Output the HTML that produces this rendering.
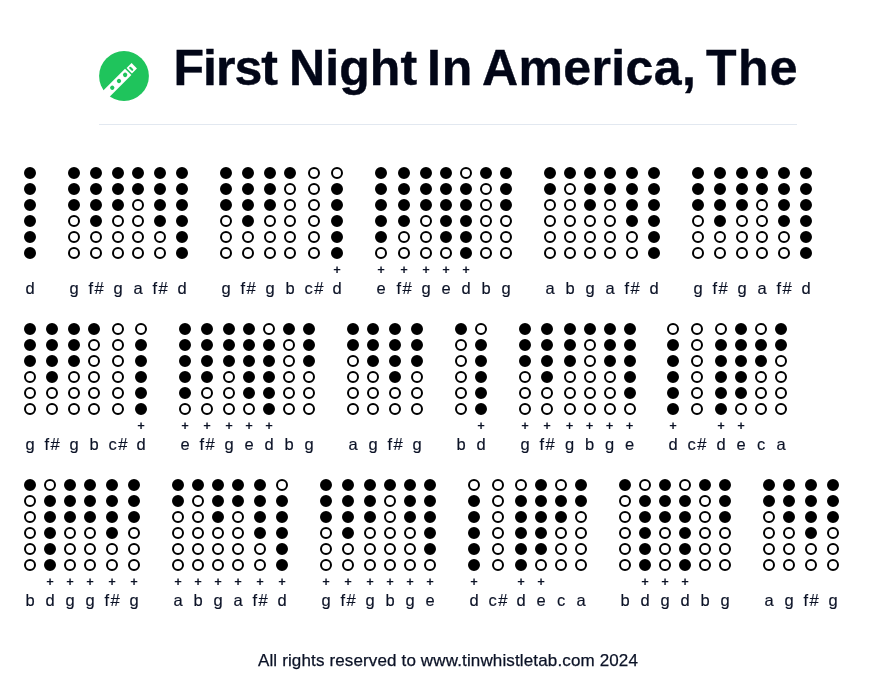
<!DOCTYPE html>
<html lang="en">
<head>
<meta charset="utf-8">
<title>First Night In America, The</title>
<style>
html,body{margin:0;padding:0;background:#fff;}
body{will-change:transform;width:896px;height:693px;position:relative;overflow:hidden;font-family:"Liberation Sans",sans-serif;color:#0b1226;}
.head{position:absolute;left:99px;top:0;width:698px;height:125px;border-bottom:1px solid #e2e8f0;box-sizing:border-box;}
.logo{position:absolute;left:0;top:51px;width:50px;height:50px;}
h1{-webkit-text-stroke:0.4px #020617;position:absolute;left:0;top:39.5px;width:700px;height:56px;margin:0;font-size:50px;line-height:56px;font-weight:700;color:#020617;white-space:nowrap;}
h1 span{position:absolute;top:0;}
.row{position:absolute;left:0;width:896px;height:140px;}
.n{position:absolute;top:0;width:40px;height:140px;}
.h{display:block;box-sizing:border-box;width:12px;height:12px;border:2px solid #000;border-radius:50%;background:#000;margin:0 auto 4px;}
.h.o{background:#fff;}
.p{position:absolute;left:0;width:40px;top:94.5px;text-align:center;font-size:13px;line-height:16px;font-weight:700;color:#0b1226;}
.l{-webkit-text-stroke:0.15px #0b1226;position:absolute;left:0;width:40px;top:111px;text-align:center;font-size:16.5px;line-height:20px;color:#0b1226;}
.l.s{letter-spacing:1.4px;text-indent:1.4px;}
.foot{-webkit-text-stroke:0.25px #0b1226;position:absolute;left:0;width:896px;top:651px;text-align:center;font-size:17px;line-height:20px;letter-spacing:0.14px;color:#0b1226;}
</style>
</head>
<body>
<div class="head">
<svg class="logo" viewBox="0 0 50 50">
<circle cx="25" cy="25" r="24.9" fill="#1fc45c"/>
<g transform="rotate(-45 25 25)">
<rect x="-12" y="20.5" width="42.9" height="9" fill="#fff"/>
<rect x="32.4" y="21.2" width="7.1" height="7.6" fill="#fff"/>
<rect x="34.2" y="22.55" width="2.1" height="4.9" rx="1" fill="#1fc45c"/>
<circle cx="26.6" cy="25" r="2.15" fill="#1fc45c"/>
<circle cx="17.9" cy="25" r="2.15" fill="#1fc45c"/>
<circle cx="8.4" cy="25" r="2.15" fill="#1fc45c"/>
</g>
</svg>
<h1><span style="left:74.4px;letter-spacing:-0.96px">First </span><span style="left:189.9px;letter-spacing:0.13px">Night </span><span style="left:328.1px;letter-spacing:0.78px">In </span><span style="left:383.1px;letter-spacing:0.35px">America, </span><span style="left:607.1px;letter-spacing:1.27px">The</span></h1>
</div>
<div class="row" style="top:167px">
<div class="n" style="left:10px"><i class="h"></i><i class="h"></i><i class="h"></i><i class="h"></i><i class="h"></i><i class="h"></i><span class="l">d</span></div>
<div class="n" style="left:54px"><i class="h"></i><i class="h"></i><i class="h"></i><i class="h o"></i><i class="h o"></i><i class="h o"></i><span class="l">g</span></div>
<div class="n" style="left:76px"><i class="h"></i><i class="h"></i><i class="h"></i><i class="h"></i><i class="h o"></i><i class="h o"></i><span class="l s">f#</span></div>
<div class="n" style="left:98px"><i class="h"></i><i class="h"></i><i class="h"></i><i class="h o"></i><i class="h o"></i><i class="h o"></i><span class="l">g</span></div>
<div class="n" style="left:118px"><i class="h"></i><i class="h"></i><i class="h o"></i><i class="h o"></i><i class="h o"></i><i class="h o"></i><span class="l">a</span></div>
<div class="n" style="left:140px"><i class="h"></i><i class="h"></i><i class="h"></i><i class="h"></i><i class="h o"></i><i class="h o"></i><span class="l s">f#</span></div>
<div class="n" style="left:162px"><i class="h"></i><i class="h"></i><i class="h"></i><i class="h"></i><i class="h"></i><i class="h"></i><span class="l">d</span></div>
<div class="n" style="left:206px"><i class="h"></i><i class="h"></i><i class="h"></i><i class="h o"></i><i class="h o"></i><i class="h o"></i><span class="l">g</span></div>
<div class="n" style="left:228px"><i class="h"></i><i class="h"></i><i class="h"></i><i class="h"></i><i class="h o"></i><i class="h o"></i><span class="l s">f#</span></div>
<div class="n" style="left:250px"><i class="h"></i><i class="h"></i><i class="h"></i><i class="h o"></i><i class="h o"></i><i class="h o"></i><span class="l">g</span></div>
<div class="n" style="left:270px"><i class="h"></i><i class="h o"></i><i class="h o"></i><i class="h o"></i><i class="h o"></i><i class="h o"></i><span class="l">b</span></div>
<div class="n" style="left:294px"><i class="h o"></i><i class="h o"></i><i class="h o"></i><i class="h o"></i><i class="h o"></i><i class="h o"></i><span class="l s">c#</span></div>
<div class="n" style="left:317px"><i class="h o"></i><i class="h"></i><i class="h"></i><i class="h"></i><i class="h"></i><i class="h"></i><b class="p">+</b><span class="l">d</span></div>
<div class="n" style="left:361px"><i class="h"></i><i class="h"></i><i class="h"></i><i class="h"></i><i class="h"></i><i class="h o"></i><b class="p">+</b><span class="l">e</span></div>
<div class="n" style="left:384px"><i class="h"></i><i class="h"></i><i class="h"></i><i class="h"></i><i class="h o"></i><i class="h o"></i><b class="p">+</b><span class="l s">f#</span></div>
<div class="n" style="left:406px"><i class="h"></i><i class="h"></i><i class="h"></i><i class="h o"></i><i class="h o"></i><i class="h o"></i><b class="p">+</b><span class="l">g</span></div>
<div class="n" style="left:426px"><i class="h"></i><i class="h"></i><i class="h"></i><i class="h"></i><i class="h"></i><i class="h o"></i><b class="p">+</b><span class="l">e</span></div>
<div class="n" style="left:446px"><i class="h o"></i><i class="h"></i><i class="h"></i><i class="h"></i><i class="h"></i><i class="h"></i><b class="p">+</b><span class="l">d</span></div>
<div class="n" style="left:466px"><i class="h"></i><i class="h o"></i><i class="h o"></i><i class="h o"></i><i class="h o"></i><i class="h o"></i><span class="l">b</span></div>
<div class="n" style="left:486px"><i class="h"></i><i class="h"></i><i class="h"></i><i class="h o"></i><i class="h o"></i><i class="h o"></i><span class="l">g</span></div>
<div class="n" style="left:530px"><i class="h"></i><i class="h"></i><i class="h o"></i><i class="h o"></i><i class="h o"></i><i class="h o"></i><span class="l">a</span></div>
<div class="n" style="left:550px"><i class="h"></i><i class="h o"></i><i class="h o"></i><i class="h o"></i><i class="h o"></i><i class="h o"></i><span class="l">b</span></div>
<div class="n" style="left:570px"><i class="h"></i><i class="h"></i><i class="h"></i><i class="h o"></i><i class="h o"></i><i class="h o"></i><span class="l">g</span></div>
<div class="n" style="left:590px"><i class="h"></i><i class="h"></i><i class="h o"></i><i class="h o"></i><i class="h o"></i><i class="h o"></i><span class="l">a</span></div>
<div class="n" style="left:612px"><i class="h"></i><i class="h"></i><i class="h"></i><i class="h"></i><i class="h o"></i><i class="h o"></i><span class="l s">f#</span></div>
<div class="n" style="left:634px"><i class="h"></i><i class="h"></i><i class="h"></i><i class="h"></i><i class="h"></i><i class="h"></i><span class="l">d</span></div>
<div class="n" style="left:678px"><i class="h"></i><i class="h"></i><i class="h"></i><i class="h o"></i><i class="h o"></i><i class="h o"></i><span class="l">g</span></div>
<div class="n" style="left:700px"><i class="h"></i><i class="h"></i><i class="h"></i><i class="h"></i><i class="h o"></i><i class="h o"></i><span class="l s">f#</span></div>
<div class="n" style="left:722px"><i class="h"></i><i class="h"></i><i class="h"></i><i class="h o"></i><i class="h o"></i><i class="h o"></i><span class="l">g</span></div>
<div class="n" style="left:742px"><i class="h"></i><i class="h"></i><i class="h o"></i><i class="h o"></i><i class="h o"></i><i class="h o"></i><span class="l">a</span></div>
<div class="n" style="left:764px"><i class="h"></i><i class="h"></i><i class="h"></i><i class="h"></i><i class="h o"></i><i class="h o"></i><span class="l s">f#</span></div>
<div class="n" style="left:786px"><i class="h"></i><i class="h"></i><i class="h"></i><i class="h"></i><i class="h"></i><i class="h"></i><span class="l">d</span></div>
</div>
<div class="row" style="top:323px">
<div class="n" style="left:10px"><i class="h"></i><i class="h"></i><i class="h"></i><i class="h o"></i><i class="h o"></i><i class="h o"></i><span class="l">g</span></div>
<div class="n" style="left:32px"><i class="h"></i><i class="h"></i><i class="h"></i><i class="h"></i><i class="h o"></i><i class="h o"></i><span class="l s">f#</span></div>
<div class="n" style="left:54px"><i class="h"></i><i class="h"></i><i class="h"></i><i class="h o"></i><i class="h o"></i><i class="h o"></i><span class="l">g</span></div>
<div class="n" style="left:74px"><i class="h"></i><i class="h o"></i><i class="h o"></i><i class="h o"></i><i class="h o"></i><i class="h o"></i><span class="l">b</span></div>
<div class="n" style="left:98px"><i class="h o"></i><i class="h o"></i><i class="h o"></i><i class="h o"></i><i class="h o"></i><i class="h o"></i><span class="l s">c#</span></div>
<div class="n" style="left:121px"><i class="h o"></i><i class="h"></i><i class="h"></i><i class="h"></i><i class="h"></i><i class="h"></i><b class="p">+</b><span class="l">d</span></div>
<div class="n" style="left:165px"><i class="h"></i><i class="h"></i><i class="h"></i><i class="h"></i><i class="h"></i><i class="h o"></i><b class="p">+</b><span class="l">e</span></div>
<div class="n" style="left:187px"><i class="h"></i><i class="h"></i><i class="h"></i><i class="h"></i><i class="h o"></i><i class="h o"></i><b class="p">+</b><span class="l s">f#</span></div>
<div class="n" style="left:209px"><i class="h"></i><i class="h"></i><i class="h"></i><i class="h o"></i><i class="h o"></i><i class="h o"></i><b class="p">+</b><span class="l">g</span></div>
<div class="n" style="left:229px"><i class="h"></i><i class="h"></i><i class="h"></i><i class="h"></i><i class="h"></i><i class="h o"></i><b class="p">+</b><span class="l">e</span></div>
<div class="n" style="left:249px"><i class="h o"></i><i class="h"></i><i class="h"></i><i class="h"></i><i class="h"></i><i class="h"></i><b class="p">+</b><span class="l">d</span></div>
<div class="n" style="left:269px"><i class="h"></i><i class="h o"></i><i class="h o"></i><i class="h o"></i><i class="h o"></i><i class="h o"></i><span class="l">b</span></div>
<div class="n" style="left:289px"><i class="h"></i><i class="h"></i><i class="h"></i><i class="h o"></i><i class="h o"></i><i class="h o"></i><span class="l">g</span></div>
<div class="n" style="left:333px"><i class="h"></i><i class="h"></i><i class="h o"></i><i class="h o"></i><i class="h o"></i><i class="h o"></i><span class="l">a</span></div>
<div class="n" style="left:353px"><i class="h"></i><i class="h"></i><i class="h"></i><i class="h o"></i><i class="h o"></i><i class="h o"></i><span class="l">g</span></div>
<div class="n" style="left:375px"><i class="h"></i><i class="h"></i><i class="h"></i><i class="h"></i><i class="h o"></i><i class="h o"></i><span class="l s">f#</span></div>
<div class="n" style="left:397px"><i class="h"></i><i class="h"></i><i class="h"></i><i class="h o"></i><i class="h o"></i><i class="h o"></i><span class="l">g</span></div>
<div class="n" style="left:441px"><i class="h"></i><i class="h o"></i><i class="h o"></i><i class="h o"></i><i class="h o"></i><i class="h o"></i><span class="l">b</span></div>
<div class="n" style="left:461px"><i class="h o"></i><i class="h"></i><i class="h"></i><i class="h"></i><i class="h"></i><i class="h"></i><b class="p">+</b><span class="l">d</span></div>
<div class="n" style="left:505px"><i class="h"></i><i class="h"></i><i class="h"></i><i class="h o"></i><i class="h o"></i><i class="h o"></i><b class="p">+</b><span class="l">g</span></div>
<div class="n" style="left:527px"><i class="h"></i><i class="h"></i><i class="h"></i><i class="h"></i><i class="h o"></i><i class="h o"></i><b class="p">+</b><span class="l s">f#</span></div>
<div class="n" style="left:549.5px"><i class="h"></i><i class="h"></i><i class="h"></i><i class="h o"></i><i class="h o"></i><i class="h o"></i><b class="p">+</b><span class="l">g</span></div>
<div class="n" style="left:569.5px"><i class="h"></i><i class="h o"></i><i class="h o"></i><i class="h o"></i><i class="h o"></i><i class="h o"></i><b class="p">+</b><span class="l">b</span></div>
<div class="n" style="left:589.5px"><i class="h"></i><i class="h"></i><i class="h"></i><i class="h o"></i><i class="h o"></i><i class="h o"></i><b class="p">+</b><span class="l">g</span></div>
<div class="n" style="left:609.5px"><i class="h"></i><i class="h"></i><i class="h"></i><i class="h"></i><i class="h"></i><i class="h o"></i><b class="p">+</b><span class="l">e</span></div>
<div class="n" style="left:653px"><i class="h o"></i><i class="h"></i><i class="h"></i><i class="h"></i><i class="h"></i><i class="h"></i><b class="p">+</b><span class="l">d</span></div>
<div class="n" style="left:677px"><i class="h o"></i><i class="h o"></i><i class="h o"></i><i class="h o"></i><i class="h o"></i><i class="h o"></i><span class="l s">c#</span></div>
<div class="n" style="left:701px"><i class="h o"></i><i class="h"></i><i class="h"></i><i class="h"></i><i class="h"></i><i class="h"></i><b class="p">+</b><span class="l">d</span></div>
<div class="n" style="left:721px"><i class="h"></i><i class="h"></i><i class="h"></i><i class="h"></i><i class="h"></i><i class="h o"></i><b class="p">+</b><span class="l">e</span></div>
<div class="n" style="left:741px"><i class="h o"></i><i class="h"></i><i class="h"></i><i class="h o"></i><i class="h o"></i><i class="h o"></i><span class="l">c</span></div>
<div class="n" style="left:761px"><i class="h"></i><i class="h"></i><i class="h o"></i><i class="h o"></i><i class="h o"></i><i class="h o"></i><span class="l">a</span></div>
</div>
<div class="row" style="top:479px">
<div class="n" style="left:10px"><i class="h"></i><i class="h o"></i><i class="h o"></i><i class="h o"></i><i class="h o"></i><i class="h o"></i><span class="l">b</span></div>
<div class="n" style="left:30px"><i class="h o"></i><i class="h"></i><i class="h"></i><i class="h"></i><i class="h"></i><i class="h"></i><b class="p">+</b><span class="l">d</span></div>
<div class="n" style="left:50px"><i class="h"></i><i class="h"></i><i class="h"></i><i class="h o"></i><i class="h o"></i><i class="h o"></i><b class="p">+</b><span class="l">g</span></div>
<div class="n" style="left:70px"><i class="h"></i><i class="h"></i><i class="h"></i><i class="h o"></i><i class="h o"></i><i class="h o"></i><b class="p">+</b><span class="l">g</span></div>
<div class="n" style="left:92px"><i class="h"></i><i class="h"></i><i class="h"></i><i class="h"></i><i class="h o"></i><i class="h o"></i><b class="p">+</b><span class="l s">f#</span></div>
<div class="n" style="left:114px"><i class="h"></i><i class="h"></i><i class="h"></i><i class="h o"></i><i class="h o"></i><i class="h o"></i><b class="p">+</b><span class="l">g</span></div>
<div class="n" style="left:158px"><i class="h"></i><i class="h"></i><i class="h o"></i><i class="h o"></i><i class="h o"></i><i class="h o"></i><b class="p">+</b><span class="l">a</span></div>
<div class="n" style="left:178px"><i class="h"></i><i class="h o"></i><i class="h o"></i><i class="h o"></i><i class="h o"></i><i class="h o"></i><b class="p">+</b><span class="l">b</span></div>
<div class="n" style="left:198px"><i class="h"></i><i class="h"></i><i class="h"></i><i class="h o"></i><i class="h o"></i><i class="h o"></i><b class="p">+</b><span class="l">g</span></div>
<div class="n" style="left:218px"><i class="h"></i><i class="h"></i><i class="h o"></i><i class="h o"></i><i class="h o"></i><i class="h o"></i><b class="p">+</b><span class="l">a</span></div>
<div class="n" style="left:240px"><i class="h"></i><i class="h"></i><i class="h"></i><i class="h"></i><i class="h o"></i><i class="h o"></i><b class="p">+</b><span class="l s">f#</span></div>
<div class="n" style="left:262px"><i class="h o"></i><i class="h"></i><i class="h"></i><i class="h"></i><i class="h"></i><i class="h"></i><b class="p">+</b><span class="l">d</span></div>
<div class="n" style="left:306px"><i class="h"></i><i class="h"></i><i class="h"></i><i class="h o"></i><i class="h o"></i><i class="h o"></i><b class="p">+</b><span class="l">g</span></div>
<div class="n" style="left:328px"><i class="h"></i><i class="h"></i><i class="h"></i><i class="h"></i><i class="h o"></i><i class="h o"></i><b class="p">+</b><span class="l s">f#</span></div>
<div class="n" style="left:350px"><i class="h"></i><i class="h"></i><i class="h"></i><i class="h o"></i><i class="h o"></i><i class="h o"></i><b class="p">+</b><span class="l">g</span></div>
<div class="n" style="left:370px"><i class="h"></i><i class="h o"></i><i class="h o"></i><i class="h o"></i><i class="h o"></i><i class="h o"></i><b class="p">+</b><span class="l">b</span></div>
<div class="n" style="left:390px"><i class="h"></i><i class="h"></i><i class="h"></i><i class="h o"></i><i class="h o"></i><i class="h o"></i><b class="p">+</b><span class="l">g</span></div>
<div class="n" style="left:410px"><i class="h"></i><i class="h"></i><i class="h"></i><i class="h"></i><i class="h"></i><i class="h o"></i><b class="p">+</b><span class="l">e</span></div>
<div class="n" style="left:454px"><i class="h o"></i><i class="h"></i><i class="h"></i><i class="h"></i><i class="h"></i><i class="h"></i><b class="p">+</b><span class="l">d</span></div>
<div class="n" style="left:478px"><i class="h o"></i><i class="h o"></i><i class="h o"></i><i class="h o"></i><i class="h o"></i><i class="h o"></i><span class="l s">c#</span></div>
<div class="n" style="left:501px"><i class="h o"></i><i class="h"></i><i class="h"></i><i class="h"></i><i class="h"></i><i class="h"></i><b class="p">+</b><span class="l">d</span></div>
<div class="n" style="left:521px"><i class="h"></i><i class="h"></i><i class="h"></i><i class="h"></i><i class="h"></i><i class="h o"></i><b class="p">+</b><span class="l">e</span></div>
<div class="n" style="left:541px"><i class="h o"></i><i class="h"></i><i class="h"></i><i class="h o"></i><i class="h o"></i><i class="h o"></i><span class="l">c</span></div>
<div class="n" style="left:561px"><i class="h"></i><i class="h"></i><i class="h o"></i><i class="h o"></i><i class="h o"></i><i class="h o"></i><span class="l">a</span></div>
<div class="n" style="left:605px"><i class="h"></i><i class="h o"></i><i class="h o"></i><i class="h o"></i><i class="h o"></i><i class="h o"></i><span class="l">b</span></div>
<div class="n" style="left:625px"><i class="h o"></i><i class="h"></i><i class="h"></i><i class="h"></i><i class="h"></i><i class="h"></i><b class="p">+</b><span class="l">d</span></div>
<div class="n" style="left:645px"><i class="h"></i><i class="h"></i><i class="h"></i><i class="h o"></i><i class="h o"></i><i class="h o"></i><b class="p">+</b><span class="l">g</span></div>
<div class="n" style="left:665px"><i class="h o"></i><i class="h"></i><i class="h"></i><i class="h"></i><i class="h"></i><i class="h"></i><b class="p">+</b><span class="l">d</span></div>
<div class="n" style="left:685px"><i class="h"></i><i class="h o"></i><i class="h o"></i><i class="h o"></i><i class="h o"></i><i class="h o"></i><span class="l">b</span></div>
<div class="n" style="left:705px"><i class="h"></i><i class="h"></i><i class="h"></i><i class="h o"></i><i class="h o"></i><i class="h o"></i><span class="l">g</span></div>
<div class="n" style="left:749px"><i class="h"></i><i class="h"></i><i class="h o"></i><i class="h o"></i><i class="h o"></i><i class="h o"></i><span class="l">a</span></div>
<div class="n" style="left:769px"><i class="h"></i><i class="h"></i><i class="h"></i><i class="h o"></i><i class="h o"></i><i class="h o"></i><span class="l">g</span></div>
<div class="n" style="left:791px"><i class="h"></i><i class="h"></i><i class="h"></i><i class="h"></i><i class="h o"></i><i class="h o"></i><span class="l s">f#</span></div>
<div class="n" style="left:813px"><i class="h"></i><i class="h"></i><i class="h"></i><i class="h o"></i><i class="h o"></i><i class="h o"></i><span class="l">g</span></div>
</div>
<div class="foot">All rights reserved to www.tinwhistletab.com 2024</div>
</body>
</html>
